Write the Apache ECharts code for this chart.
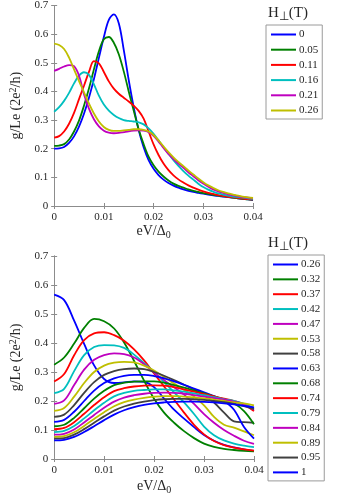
<!DOCTYPE html>
<html>
<head>
<meta charset="utf-8">
<script src="https://cdn.jsdelivr.net/npm/echarts@6/dist/echarts.min.js"></script>
<style>
  html, body { margin: 0; padding: 0; background: #fff; }
  #chart { width: 346px; height: 496px; }
</style>
</head>
<body>
<div id="chart"></div>
<script>
// eV/Δ0 sample points: upper panel every 0.001, lower panel every 0.002
const xTop = [0, 0.001, 0.002, 0.003, 0.004, 0.005, 0.006, 0.007, 0.008, 0.009, 0.010,
  0.011, 0.012, 0.013, 0.014, 0.015, 0.016, 0.017, 0.018, 0.019, 0.020,
  0.021, 0.022, 0.023, 0.024, 0.025, 0.026, 0.027, 0.028, 0.029, 0.030,
  0.031, 0.032, 0.033, 0.034, 0.035, 0.036, 0.037, 0.038, 0.039, 0.040]
const xBot = [0, 0.002, 0.004, 0.006, 0.008, 0.010, 0.012, 0.014, 0.016, 0.018, 0.020,
  0.022, 0.024, 0.026, 0.028, 0.030, 0.032, 0.034, 0.036, 0.038, 0.040]

// upper panel, H⊥ = 0 ... 0.26 T
const topNames = ['0', '0.05', '0.11', '0.16', '0.21', '0.26']
const top0 = [0.200, 0.201, 0.206, 0.220, 0.243, 0.277, 0.322, 0.378, 0.443, 0.517, 0.590,
  0.650, 0.669, 0.638, 0.545, 0.440, 0.345, 0.265, 0.205, 0.160, 0.130,
  0.108, 0.092, 0.080, 0.071, 0.064, 0.058, 0.053, 0.049, 0.046, 0.043,
  0.040, 0.037, 0.035, 0.033, 0.031, 0.029, 0.027, 0.025, 0.023, 0.021]
const top005 = [0.210, 0.211, 0.216, 0.232, 0.260, 0.298, 0.350, 0.410, 0.477, 0.540, 0.582,
  0.590, 0.570, 0.530, 0.470, 0.400, 0.333, 0.268, 0.216, 0.172, 0.142,
  0.120, 0.103, 0.089, 0.078, 0.070, 0.064, 0.058, 0.053, 0.049, 0.045,
  0.042, 0.039, 0.036, 0.034, 0.032, 0.029, 0.027, 0.025, 0.023, 0.022]
const top011 = [0.239, 0.244, 0.260, 0.287, 0.325, 0.373, 0.420, 0.468, 0.506, 0.498, 0.468,
  0.435, 0.410, 0.392, 0.378, 0.365, 0.350, 0.332, 0.305, 0.260, 0.215,
  0.178, 0.148, 0.125, 0.107, 0.093, 0.082, 0.072, 0.064, 0.057, 0.051,
  0.046, 0.042, 0.038, 0.035, 0.032, 0.030, 0.028, 0.026, 0.024, 0.023]
const top016 = [0.329, 0.345, 0.367, 0.395, 0.428, 0.455, 0.467, 0.458, 0.425, 0.385, 0.354,
  0.333, 0.318, 0.307, 0.300, 0.297, 0.295, 0.292, 0.285, 0.271, 0.252,
  0.229, 0.205, 0.182, 0.160, 0.140, 0.122, 0.106, 0.092, 0.078, 0.066,
  0.057, 0.050, 0.044, 0.040, 0.036, 0.033, 0.031, 0.029, 0.027, 0.025]
const top021 = [0.472, 0.479, 0.487, 0.492, 0.488, 0.455, 0.390, 0.340, 0.303, 0.278, 0.263,
  0.256, 0.254, 0.255, 0.258, 0.261, 0.263, 0.264, 0.263, 0.258, 0.245,
  0.225, 0.203, 0.182, 0.164, 0.148, 0.133, 0.118, 0.104, 0.090, 0.078,
  0.067, 0.058, 0.051, 0.046, 0.041, 0.037, 0.034, 0.031, 0.029, 0.027]
const top026 = [0.567, 0.562, 0.548, 0.518, 0.477, 0.436, 0.397, 0.358, 0.323, 0.295, 0.276,
  0.266, 0.262, 0.262, 0.264, 0.266, 0.268, 0.268, 0.266, 0.260, 0.248,
  0.229, 0.208, 0.188, 0.170, 0.154, 0.139, 0.124, 0.110, 0.096, 0.083,
  0.072, 0.063, 0.055, 0.049, 0.044, 0.040, 0.036, 0.033, 0.030, 0.028]

// lower panel, H⊥ = 0.26 ... 1 T
const botNames = ['0.26', '0.32', '0.37', '0.42', '0.47', '0.53', '0.58', '0.63', '0.68', '0.74', '0.79', '0.84', '0.89', '0.95', '1']
const bot026 = [0.567, 0.548, 0.477, 0.397, 0.323, 0.276, 0.262, 0.264, 0.268, 0.266, 0.248, 0.208, 0.170, 0.139, 0.110, 0.083, 0.063, 0.049, 0.040, 0.033, 0.028]
const bot032 = [0.325, 0.350, 0.398, 0.452, 0.483, 0.475, 0.450, 0.402, 0.338, 0.270, 0.208, 0.160, 0.125, 0.096, 0.072, 0.053, 0.042, 0.035, 0.031, 0.028, 0.026]
const bot037 = [0.267, 0.293, 0.358, 0.410, 0.433, 0.437, 0.427, 0.408, 0.378, 0.340, 0.295, 0.250, 0.205, 0.160, 0.118, 0.085, 0.062, 0.048, 0.039, 0.033, 0.029]
const bot042 = [0.227, 0.242, 0.303, 0.358, 0.386, 0.393, 0.392, 0.383, 0.360, 0.330, 0.300, 0.265, 0.230, 0.195, 0.155, 0.112, 0.082, 0.064, 0.053, 0.046, 0.041]
const bot047 = [0.190, 0.202, 0.255, 0.308, 0.342, 0.358, 0.364, 0.362, 0.350, 0.327, 0.298, 0.272, 0.247, 0.222, 0.190, 0.155, 0.125, 0.100, 0.080, 0.063, 0.052]
const bot053 = [0.166, 0.176, 0.215, 0.262, 0.300, 0.322, 0.332, 0.335, 0.333, 0.322, 0.305, 0.283, 0.260, 0.238, 0.215, 0.185, 0.145, 0.118, 0.108, 0.095, 0.082]
const bot058 = [0.145, 0.153, 0.186, 0.228, 0.265, 0.290, 0.303, 0.310, 0.312, 0.310, 0.300, 0.287, 0.272, 0.256, 0.240, 0.220, 0.195, 0.160, 0.130, 0.127, 0.125]
const bot063 = [0.128, 0.135, 0.163, 0.200, 0.236, 0.262, 0.278, 0.287, 0.290, 0.290, 0.286, 0.278, 0.268, 0.256, 0.243, 0.230, 0.217, 0.200, 0.170, 0.110, 0.070]
const bot068 = [0.113, 0.118, 0.142, 0.175, 0.208, 0.235, 0.255, 0.263, 0.267, 0.268, 0.268, 0.263, 0.255, 0.246, 0.236, 0.226, 0.216, 0.206, 0.192, 0.165, 0.120]
const bot074 = [0.103, 0.107, 0.127, 0.156, 0.186, 0.213, 0.234, 0.244, 0.250, 0.253, 0.254, 0.253, 0.248, 0.240, 0.232, 0.224, 0.216, 0.208, 0.200, 0.188, 0.165]
const bot079 = [0.093, 0.097, 0.114, 0.140, 0.168, 0.194, 0.216, 0.228, 0.235, 0.238, 0.240, 0.240, 0.237, 0.232, 0.226, 0.220, 0.213, 0.206, 0.200, 0.190, 0.175]
const bot084 = [0.084, 0.087, 0.102, 0.126, 0.152, 0.177, 0.198, 0.212, 0.220, 0.225, 0.228, 0.229, 0.228, 0.225, 0.220, 0.215, 0.210, 0.205, 0.198, 0.188, 0.170]
const bot089 = [0.076, 0.079, 0.092, 0.114, 0.138, 0.161, 0.182, 0.196, 0.205, 0.211, 0.215, 0.217, 0.217, 0.215, 0.212, 0.209, 0.205, 0.200, 0.195, 0.192, 0.185]
const bot095 = [0.070, 0.072, 0.084, 0.103, 0.125, 0.147, 0.167, 0.181, 0.191, 0.198, 0.203, 0.206, 0.207, 0.207, 0.206, 0.204, 0.200, 0.196, 0.190, 0.182, 0.172]
const bot1 = [0.064, 0.066, 0.076, 0.093, 0.113, 0.134, 0.153, 0.168, 0.179, 0.187, 0.192, 0.195, 0.197, 0.198, 0.198, 0.197, 0.195, 0.192, 0.188, 0.183, 0.178]

const topCurves = [top0, top005, top011, top016, top021, top026]
const botCurves = [bot026, bot032, bot037, bot042, bot047, bot053, bot058, bot063, bot068, bot074, bot079, bot084, bot089, bot095, bot1]

// matlab style line colours
const palette = ['#0000ff', '#008000', '#ff0000', '#00bfbf', '#bf00bf', '#bfbf00', '#404040']

const serif = 'Liberation Serif'
const axisGray = '#8c8c8c'
const textCol = '#262626'

function xAxes(grid, gap) {
  const base = {
    gridIndex: grid, type: 'value', min: 0, max: 0.04, interval: 0.01,
    axisLine: { lineStyle: { color: axisGray } },
    axisTick: { inside: true, length: 3, lineStyle: { color: axisGray } },
    splitLine: { show: false }
  }
  return [
    Object.assign({}, base, {
      position: 'bottom',
      axisLabel: { color: textCol, fontFamily: serif, fontSize: 11, margin: 6 },
      name: 'eV/Δ{s|0}',
      nameLocation: 'middle',
      nameGap: gap,
      nameTextStyle: {
        color: textCol, fontFamily: serif, fontSize: 14,
        rich: { s: { fontFamily: serif, fontSize: 10, color: textCol, padding: [8, 0, 0, 0] } }
      }
    }),
    Object.assign({}, base, { position: 'top', axisLabel: { show: false } })
  ]
}

function yAxes(grid) {
  const base = {
    gridIndex: grid, type: 'value', min: 0, max: 0.7, interval: 0.1,
    axisLine: { show: true, lineStyle: { color: axisGray } },
    axisTick: { show: true, inside: true, length: 3, lineStyle: { color: axisGray } },
    splitLine: { show: false }
  }
  return [
    Object.assign({}, base, {
      position: 'left',
      axisLabel: { color: textCol, fontFamily: serif, fontSize: 11, margin: 6 },
      name: 'g/Le (2e{p|2}/h)',
      nameLocation: 'middle',
      nameGap: 23,
      nameTextStyle: {
        color: textCol, fontFamily: serif, fontSize: 14,
        rich: { p: { fontFamily: serif, fontSize: 10, color: textCol, padding: [0, 0, 7, 0] } }
      }
    }),
    Object.assign({}, base, { position: 'right', axisLabel: { show: false } })
  ]
}

function makeSeries(curves, xs, names, xi, yi, suffix) {
  return curves.map((ys, i) => ({
    name: names[i] + suffix,
    type: 'line',
    xAxisIndex: xi,
    yAxisIndex: yi,
    data: xs.map((x, k) => [x, ys[k]]),
    smooth: 0.35,
    symbol: 'none',
    color: palette[i % palette.length],
    lineStyle: { width: 1.8 },
    animation: false
  }))
}

function legend(names, suffix, left, top, gap) {
  return {
    orient: 'vertical',
    left: left,
    top: top,
    data: names.map(n => n + suffix),
    formatter: n => n.trim(),
    icon: 'rect',
    itemWidth: 25,
    itemHeight: 2,
    itemGap: gap,
    padding: [4, 4, 3, 5],
    borderColor: '#9a9a9a',
    borderWidth: 1,
    backgroundColor: '#fff',
    selectedMode: false,
    textStyle: { fontFamily: serif, fontSize: 11, color: textCol, padding: [0, 0, 0, -2] }
  }
}

function legendTitle(x, y) {
  return {
    type: 'text', left: x, top: y,
    style: {
      text: 'H{s|⊥}(T)',
      font: '15px "Liberation Serif"',
      fill: textCol,
      rich: { s: { font: '12px "Liberation Serif"', fill: textCol, padding: [6, 0, 0, 0] } }
    }
  }
}

const chart = echarts.init(document.getElementById('chart'), null, { renderer: 'canvas' })

chart.setOption({
  backgroundColor: '#fff',
  animation: false,
  grid: [
    { left: 42, top: 4, width: 211, height: 202 },
    { left: 43, top: 256, width: 211, height: 204 }
  ],
  xAxis: xAxes(0, 10).concat(xAxes(1, 18)),
  yAxis: yAxes(0).concat(yAxes(1)),
  legend: [
    legend(topNames, '', 266, 25, 4.2),
    legend(botNames, ' ', 268, 255, 3.85)
  ],
  graphic: [legendTitle(268, 6), legendTitle(268, 236)],
  series: makeSeries(topCurves, xTop, topNames, 0, 0, '').concat(makeSeries(botCurves, xBot, botNames, 2, 2, ' '))
})
</script>
</body>
</html>
